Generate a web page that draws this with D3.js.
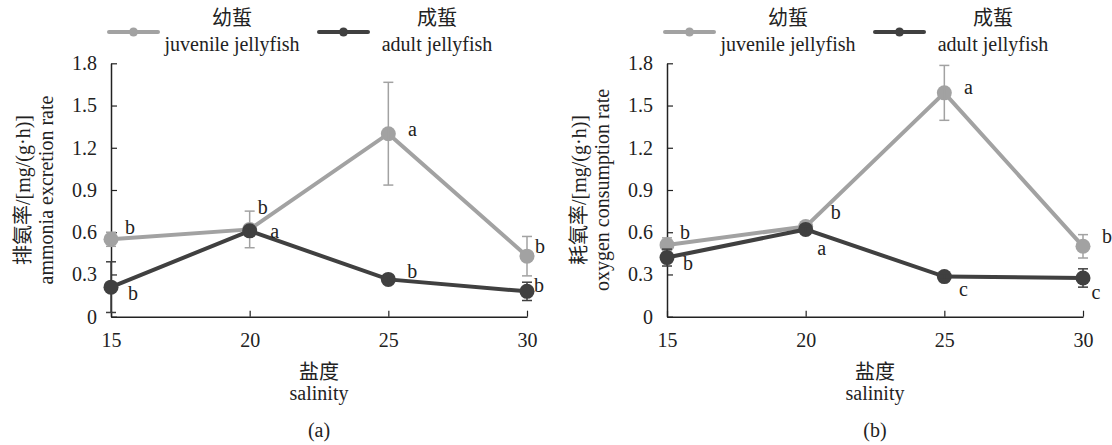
<!DOCTYPE html>
<html><head><meta charset="utf-8">
<script src="https://cdn.jsdelivr.net/npm/d3@7"></script>
<style>
body{margin:0;background:#fff;}
text{font-family:"Liberation Serif","Times New Roman","Noto Sans CJK SC",serif;fill:#222;}
</style></head>
<body><svg id="c" width="1112" height="445"></svg>
<script>
const salinity = [15, 20, 25, 30];
const yTicks = [0, 0.3, 0.6, 0.9, 1.2, 1.5, 1.8];
const yTickLabels = ["0", "0.3", "0.6", "0.9", "1.2", "1.5", "1.8"];
const seriesNames = ["幼蜇", "成蜇"];
const seriesNamesEn = ["juvenile jellyfish", "adult jellyfish"];
const seriesColors = ["#a2a2a2", "#404040"];

// panel (a) ammonia excretion rate
const ammoniaJuvenile = [0.55, 0.62, 1.30, 0.43];
const ammoniaJuvenileErr = [0.05, 0.13, 0.365, 0.14];
const ammoniaAdult = [0.21, 0.61, 0.265, 0.18];
const ammoniaAdultErr = [0.18, 0.02, 0.02, 0.065];
const ammoniaLetters = [["b", "b", "a", "b"], ["b", "a", "b", "b"]];

// panel (b) oxygen consumption rate
const oxygenJuvenile = [0.51, 0.64, 1.59, 0.50];
const oxygenJuvenileErr = [0.05, 0.02, 0.195, 0.083];
const oxygenAdult = [0.42, 0.62, 0.285, 0.275];
const oxygenAdultErr = [0.06, 0.02, 0.02, 0.065];
const oxygenLetters = [["b", "b", "a", "b"], ["b", "a", "c", "c"]];

const panels = [
  {x0: 111, label: "(a)", titleCn: "排氨率/[mg/(g·h)]", titleEn: "ammonia excretion rate",
   vals: [ammoniaJuvenile, ammoniaAdult], errs: [ammoniaJuvenileErr, ammoniaAdultErr], letters: ammoniaLetters,
   lOff: [[[19,-12],[13,-22],[24,-4],[13,-10]], [[22,6],[25,1],[24,-8],[12,-6]]], tCn: 30, tEn: 53},
  {x0: 667, label: "(b)", titleCn: "耗氧率/[mg/(g·h)]", titleEn: "oxygen consumption rate",
   vals: [oxygenJuvenile, oxygenAdult], errs: [oxygenJuvenileErr, oxygenAdultErr], letters: oxygenLetters,
   lOff: [[[18,-12],[30,-14],[24,-5],[24,-10]], [[21,6],[16,19],[19,13],[13,15]]], tCn: 586, tEn: 609}
];

const svg = d3.select("#c");
const W = 416, yTop = 63.3, yBot = 316.7;
const axisColor = "#222";

panels.forEach((p, pi) => {
  const g = svg.append("g");
  const x = d3.scaleLinear().domain([15, 30]).range([p.x0, p.x0 + W]);
  const y = d3.scaleLinear().domain([0, 1.8]).range([yBot, yTop]);

  // y axis
  const ya = g.append("g").attr("transform", `translate(${p.x0},0)`)
    .call(d3.axisLeft(y).tickValues(yTicks).tickFormat((d, i) => yTickLabels[i]).tickSizeInner(-6).tickSizeOuter(0).tickPadding(14));
  ya.select(".domain").attr("stroke", axisColor).attr("stroke-width", 1.5);
  ya.selectAll(".tick line").attr("stroke", axisColor).attr("stroke-width", 1.2);
  ya.selectAll(".tick text").attr("font-size", 20).attr("fill", "#222").attr("font-family", "Liberation Serif");

  // x axis
  const xa = g.append("g").attr("transform", `translate(0,${yBot})`)
    .call(d3.axisBottom(x).tickValues(salinity).tickSizeInner(-6).tickSizeOuter(0).tickPadding(16));
  xa.select(".domain").attr("stroke", axisColor).attr("stroke-width", 1.5);
  xa.selectAll(".tick line").attr("stroke", axisColor).attr("stroke-width", 1.2);
  xa.selectAll(".tick text").attr("font-size", 20).attr("fill", "#222").attr("font-family", "Liberation Serif");

  const cx = p.x0 + W / 2;
  g.append("text").attr("x", cx).attr("y", 379).attr("text-anchor", "middle").attr("font-size", 20).text("盐度");
  g.append("text").attr("x", cx).attr("y", 400).attr("text-anchor", "middle").attr("font-size", 20).text("salinity");
  g.append("text").attr("x", cx).attr("y", 437).attr("text-anchor", "middle").attr("font-size", 20).text(p.label);

  const ymid = (yTop + yBot) / 2;
  g.append("text").attr("transform", `translate(${p.tCn},${ymid}) rotate(-90)`).attr("text-anchor", "middle").attr("font-size", 20).text(p.titleCn);
  g.append("text").attr("transform", `translate(${p.tEn},${ymid}) rotate(-90)`).attr("text-anchor", "middle").attr("font-size", 20).text(p.titleEn);

  // series
  const line = d3.line().x((d, i) => x(salinity[i])).y(d => y(d));
  p.vals.forEach((vals, si) => {
    const col = seriesColors[si];
    const sg = g.append("g");
    sg.append("path").datum(vals).attr("d", line).attr("fill", "none").attr("stroke", col).attr("stroke-width", 4);
    sg.selectAll("circle").data(vals).join("circle")
      .attr("cx", (d, i) => x(salinity[i])).attr("cy", d => y(d)).attr("r", 7.5).attr("fill", col);
    const errs = p.errs[si];
    vals.forEach((v, i) => {
      const xx = x(salinity[i]), e = errs[i];
      sg.append("line").attr("x1", xx).attr("x2", xx).attr("y1", y(v + e)).attr("y2", y(v - e)).attr("stroke", col).attr("stroke-width", 1.5);
      [v + e, v - e].forEach(t => sg.append("line").attr("x1", xx - 5).attr("x2", xx + 5).attr("y1", y(t)).attr("y2", y(t)).attr("stroke", col).attr("stroke-width", 1.5));
    });
    p.letters[si].forEach((L, i) => {
      const o = p.lOff[si][i];
      sg.append("text").attr("x", x(salinity[i]) + o[0]).attr("y", y(vals[i]) + o[1]).attr("dy", "0.32em")
        .attr("text-anchor", "middle").attr("font-size", 20).text(L);
    });
  });

  // legend
  const legX = [[p.x0 - 2, p.x0 + 47, 232 - 111], [p.x0 + 208, p.x0 + 257, 437 - 111]];
  legX.forEach((lx, si) => {
    const col = seriesColors[si];
    g.append("line").attr("x1", lx[0]).attr("x2", lx[1]).attr("y1", 32).attr("y2", 32).attr("stroke", col).attr("stroke-width", 4).attr("stroke-linecap", "round");
    g.append("circle").attr("cx", (lx[0] + lx[1]) / 2).attr("cy", 32).attr("r", 4.5).attr("fill", col);
    g.append("text").attr("x", p.x0 + lx[2]).attr("y", 25).attr("text-anchor", "middle").attr("font-size", 20).text(seriesNames[si]);
    g.append("text").attr("x", p.x0 + lx[2]).attr("y", 51).attr("text-anchor", "middle").attr("font-size", 20).text(seriesNamesEn[si]);
  });
});
</script></body></html>
